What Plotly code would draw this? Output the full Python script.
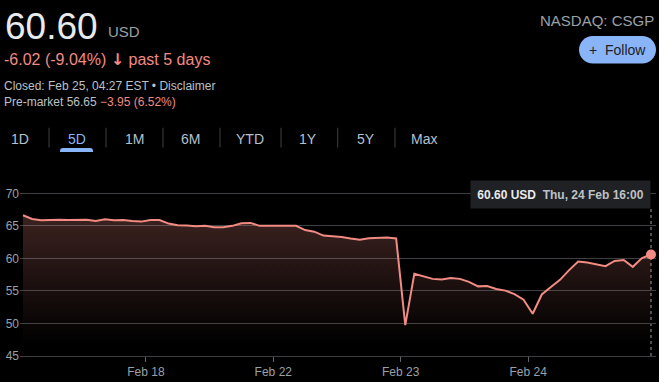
import plotly.graph_objects as go

# ---------------- data ----------------
day_labels = ["Feb 17", "Feb 18", "Feb 22", "Feb 23", "Feb 24"]
feb17 = [66.62, 66.05, 65.85, 65.95, 65.95, 65.90, 65.95, 65.95, 65.75, 66.00, 65.85, 65.90, 65.75, 65.65]
feb18 = [65.90, 65.90, 65.35, 65.10, 65.05, 64.95, 65.00, 64.80, 64.80, 65.00, 65.40, 65.45, 65.00, 65.00]
feb22 = [64.95, 64.90, 65.00, 64.35, 64.10, 63.50, 63.45, 63.30, 63.05, 62.85, 63.10, 63.20, 63.20, 63.05]
feb23 = [49.75, 57.65, 57.25, 56.85, 56.75, 57.00, 56.85, 56.40, 55.70, 55.75, 55.30, 55.05, 54.50, 53.65]
feb24 = [51.50, 54.45, 55.60, 56.70, 58.20, 59.50, 59.35, 59.10, 58.80, 59.60, 59.75, 58.70, 60.05, 60.60]
y_ticks = [45, 50, 55, 60, 65, 70]
tooltip_price = "60.60 USD"
tooltip_time = "Thu, 24 Feb 16:00"
tabs = ["1D", "5D", "1M", "6M", "YTD", "1Y", "5Y", "Max"]
selected_tab = "5D"

days = [feb17, feb18, feb22, feb23, feb24]
prices = [v for d in days for v in d]
xs = list(range(len(prices)))
tick_vals, tick_text = [], []
pos = 0
for i, d in enumerate(days):
    if i > 0:
        tick_vals.append(pos - 0.5)
        tick_text.append(day_labels[i])
    pos += len(d)

# ---------------- layout helpers ----------------
W, H = 659, 382
L, R, T, B = 20, 656, 192, 358


def fx(p):
    return (p - L) / (R - L)


def fy(p):
    return (B - p) / (B - T)


FONT = "Liberation Sans, Arial, sans-serif"
RED = "#f28b82"

fig = go.Figure()
fig.add_trace(go.Scatter(
    x=xs, y=prices, mode="lines",
    line=dict(color=RED, width=2),
    fill="tozeroy",
    fillgradient=dict(type="vertical", start=47, stop=67,
                      colorscale=[[0, "rgba(242,139,130,0)"], [1, "rgba(242,139,130,0.25)"]]),
    hoverinfo="skip", showlegend=False,
))
fig.add_trace(go.Scatter(
    x=[xs[-1]], y=[prices[-1]], mode="markers",
    marker=dict(color=RED, size=10),
    hoverinfo="skip", showlegend=False,
))

px_per_idx = (651 - 23) / (len(prices) - 1)
x_lo = -(23 - L) / px_per_idx
x_hi = (len(prices) - 1) + (R - 651) / px_per_idx

fig.update_layout(
    width=W, height=H, autosize=False,
    margin=dict(l=L, r=W - R, t=T, b=H - B, pad=0),
    paper_bgcolor="#000000", plot_bgcolor="#000000",
    font=dict(family=FONT, color="#9aa0a6"),
    xaxis=dict(range=[x_lo, x_hi], showgrid=False, zeroline=False,
               tickvals=tick_vals, ticktext=tick_text,
               ticks="outside", ticklen=5, tickcolor="#5f6368",
               showline=True, linecolor="#3c4043", linewidth=1,
               tickfont=dict(size=12, color="#9aa0a6", family=FONT)),
    yaxis=dict(range=[45, 70.2], tickvals=y_ticks, showgrid=True,
               gridcolor="#3c4043", gridwidth=1, zeroline=False,
               ticks="", showline=False,
               tickfont=dict(size=12, color="#9aa0a6", family=FONT)),
)

ann = []


def text(x, y, s, size, color, xanchor="left", yanchor="middle", family=FONT):
    ann.append(dict(x=fx(x), y=fy(y), xref="paper", yref="paper", text=s, showarrow=False,
                    xanchor=xanchor, yanchor=yanchor, font=dict(size=size, color=color, family=family)))


text(3, 24, "60.60", 37, "#e8eaed")
text(106, 30, "USD", 15, "#9aa0a6")
text(2, 58, "-6.02 (-9.04%) <span style='font-family:DejaVu Sans'><b>\u2193</b></span> past 5 days", 16, RED)
text(2, 85, "Closed: Feb 25, 04:27 EST \u2022 Disclaimer", 12, "#bdc1c6")
text(2, 101, "Pre-market 56.65 <span style='color:#f28b82'>\u22123.95 (6.52%)</span>", 12, "#bdc1c6")
text(656, 18, "NASDAQ: CSGP", 15, "#9aa0a6", xanchor="right")
text(617, 48, "+  Follow", 14, "#202124", xanchor="center")

tab_centers = [20, 76.7, 134, 190.7, 250, 308, 365.7, 424]
for name, c in zip(tabs, tab_centers):
    text(c, 138, name, 14, "#8ab4f8" if name == selected_tab else "#b4c0d0", xanchor="center")

# tooltip
ann.append(dict(x=xs[-1], y=fy(180), xref="x", yref="paper",
                text="<b>%s</b>  <b><span style='color:#bdc1c6'>%s</span></b>" % (tooltip_price, tooltip_time),
                showarrow=False, xanchor="right", yanchor="top",
                bgcolor="#202124", borderpad=0, width=179, height=27,
                font=dict(size=12, color="#e8eaed", family=FONT)))
fig.update_layout(annotations=ann)

shapes = []
# separators between tabs
for s in [49, 106, 163, 220, 281, 337.7, 395]:
    shapes.append(dict(type="line", xref="paper", yref="paper", x0=fx(s), x1=fx(s),
                       y0=fy(127), y1=fy(147), line=dict(color="#3c4043", width=1)))


def path(points_cmds):
    out = []
    for cmd, pts in points_cmds:
        coords = " ".join("%.5f,%.5f" % (fx(a), fy(b)) for a, b in pts)
        out.append(cmd + coords)
    return " ".join(out) + " Z"


# selected tab underline
u0, u1, ut, ub = 60, 93, 147.5, 151.5
shapes.append(dict(type="path", xref="paper", yref="paper",
                   path=path([("M", [(u0, ub)]), ("L", [(u0, ut + 3)]), ("Q", [(u0, ut), (u0 + 3, ut)]),
                              ("L", [(u1 - 3, ut)]), ("Q", [(u1, ut), (u1, ut + 3)]), ("L", [(u1, ub)])]),
                   fillcolor="#8ab4f8", line=dict(width=0)))

# follow pill
x0, x1, y0, y1 = 579, 656, 34, 62
r = (y1 - y0) / 2
k = 0.5523 * r
shapes.append(dict(type="path", xref="paper", yref="paper", layer="below",
                   path=path([("M", [(x0 + r, y0)]), ("L", [(x1 - r, y0)]),
                              ("C", [(x1 - r + k, y0), (x1, y0 + r - k), (x1, y0 + r)]),
                              ("C", [(x1, y0 + r + k), (x1 - r + k, y1), (x1 - r, y1)]),
                              ("L", [(x0 + r, y1)]),
                              ("C", [(x0 + r - k, y1), (x0, y0 + r + k), (x0, y0 + r)]),
                              ("C", [(x0, y0 + r - k), (x0 + r - k, y0), (x0 + r, y0)])]),
                   fillcolor="#8ab4f8", line=dict(width=0)))

# dotted cursor line at last point
shapes.append(dict(type="line", xref="x", yref="paper", x0=xs[-1], x1=xs[-1],
                   y0=0, y1=fy(207), line=dict(color="#9aa0a6", width=1, dash="dot"), layer="below"))
fig.update_layout(shapes=shapes)

fig.write_html("out.html", config={"displayModeBar": False},
               post_script="document.body.style.margin='0';document.body.style.overflow='hidden';"
                           "document.body.style.background='#000';")
